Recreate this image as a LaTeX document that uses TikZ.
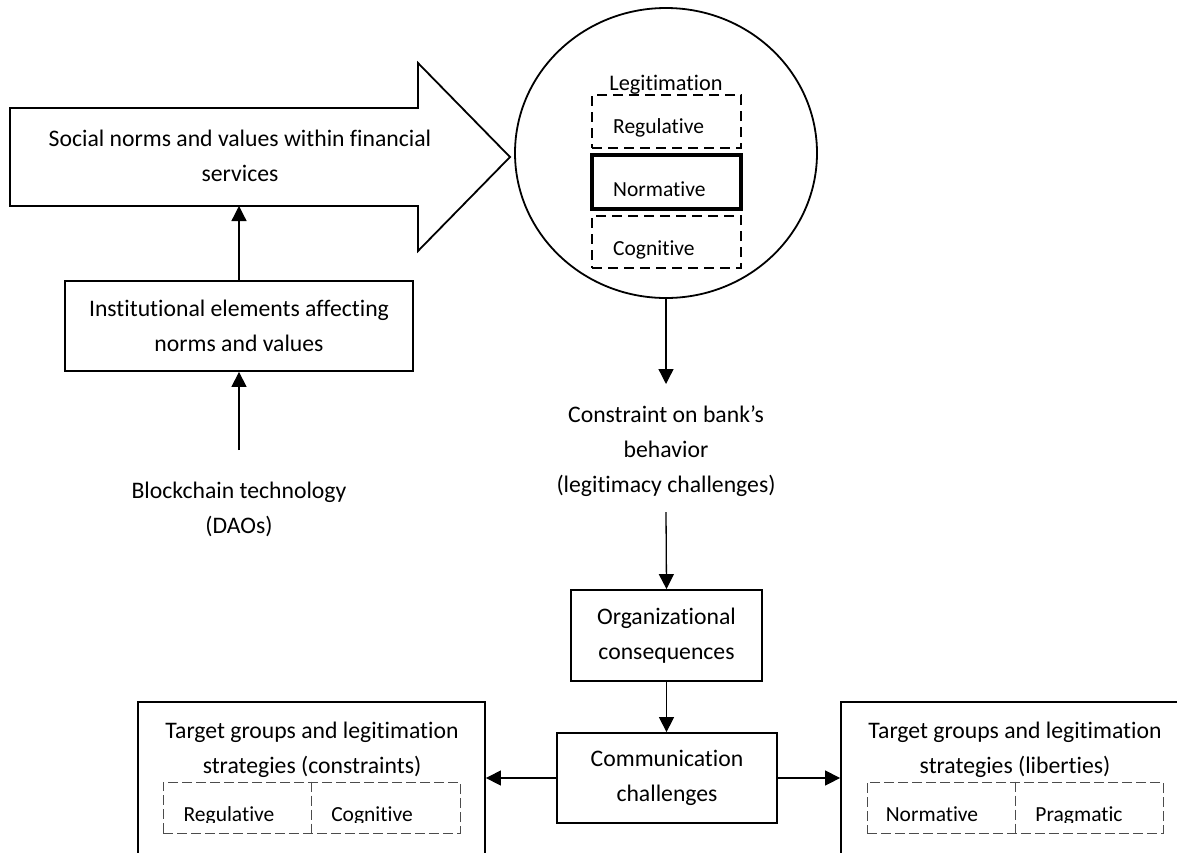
\documentclass[tikz,border=0pt]{standalone}
\usepackage{fontspec}
\setmainfont{Carlito}[Ligatures={NoCommon,NoContextual}, RawFeature=-calt, RawFeature=-rlig, RawFeature=-dlig]
% keep "t" and "i" as separate glyphs
\XeTeXinterchartokenstate=1
\newXeTeXintercharclass\tglyphclass
\newXeTeXintercharclass\iglyphclass
\XeTeXcharclass`t=\tglyphclass
\XeTeXcharclass`i=\iglyphclass
\XeTeXinterchartoks\tglyphclass\iglyphclass={\kern0pt }
\usetikzlibrary{arrows.meta,shapes.geometric}
\begin{document}
\begin{tikzpicture}[x=1pt,y=-1pt,
  big/.style={font=\fontsize{23.7pt}{35pt}\selectfont, align=center, inner sep=0pt},
  small/.style={font=\fontsize{21.5pt}{26pt}\selectfont, inner sep=0pt},
  frame/.style={draw, line width=1.8pt, inner sep=0pt},
  dbox/.style={draw, line width=1.5pt, dash pattern=on 10pt off 6pt, inner sep=0pt},
  sbox/.style={draw=black!70, line width=1pt, dash pattern=on 10pt off 4pt, inner sep=0pt},
  arr/.style={line width=1.3pt, -{Triangle[length=15pt,width=15pt]}},
]
\clip (0,0) rectangle (1177,852);
\fill[white] (0,0) rectangle (1177,852);

% large block arrow: social norms
\draw[line width=1.8pt] (10,108) -- (418,108) -- (418,63) -- (510,157)
  -- (418,251) -- (418,206) -- (10,206) -- cycle;
\node[big] (soc) at (240,156) {Social norms and values within financial\\services};
\coordinate (socBot) at (239,206);

% institutional elements and blockchain
\node[frame, big, minimum width=348pt, minimum height=90pt] (inst) at (239,326)
  {Institutional elements affecting\\norms and values};
\node[big] (bc) at (239,509) {Blockchain technology\\(DAOs)};
\coordinate (bcTop) at (239,450);
\draw[arr] (bcTop) -- (inst.south);
\draw[arr] (inst.north) -- (socBot);

% legitimation circle
\node[draw, ellipse, line width=1.8pt, minimum width=302pt, minimum height=290pt, inner sep=0pt]
  (circ) at (666,153) {};
\node[small, font=\fontsize{22.3pt}{26pt}\selectfont, anchor=base] (legit) at (666,90) {Legitimation};
\node[dbox, minimum width=149pt, minimum height=53pt] (reg) at (666.5,121.5) {};
\node[draw, line width=3.4pt, inner sep=0pt, minimum width=149pt, minimum height=54pt] (nor) at (666.5,182) {};
\node[dbox, minimum width=149pt, minimum height=52pt] (cog) at (666.5,242) {};
\node[small, anchor=base west] (regt) at (613,133) {Regulative};
\node[small, anchor=base west] (nort) at (613,196) {Normative};
\node[small, anchor=base west] (cogt) at (613,255) {Cognitive};

% constraint text
\node[big] (cons) at (666,451) {Constraint on bank’s\\behavior\\(legitimacy challenges)};
\coordinate (consTop) at (666,384);
\coordinate (consBot) at (666,512);
\draw[arr] (circ.south) -- (consTop);

% organisational consequences and communication
\node[frame, big, minimum width=191pt, minimum height=91pt] (org) at (666.5,635.5)
  {Organizational\\consequences};
\node[frame, big, minimum width=220pt, minimum height=90pt] (comm) at (667,778)
  {Communication\\challenges};
\draw[arr] (consBot) -- (org.north);
\draw[arr] (org.south) -- (org.south |- comm.north);

% target groups boxes
\node[frame, minimum width=347pt, minimum height=200pt] (lbox) at (311.5,802) {};
\node[frame, minimum width=347pt, minimum height=200pt] (rbox) at (1014.5,802) {};
\node[big] (ltxt) at (312,750) {Target groups and legitimation\\strategies (constraints)};
\node[big] (rtxt) at (1015,750) {Target groups and legitimation\\strategies (liberties)};
\draw[arr] (comm.west) -- (comm.west -| lbox.east);
\draw[arr] (comm.east) -- (comm.east -| rbox.west);

% strategy sub-boxes
\node[sbox, minimum width=297pt, minimum height=51pt] (lsub) at (311.5,807.5) {};
\node[sbox, minimum width=296pt, minimum height=51pt] (rsub) at (1015,807.5) {};
\draw[sbox] (lsub.north) -- (lsub.south);
\draw[sbox] (rsub.north) -- (rsub.south);
\begin{scope}
  \clip (0,0) rectangle (1177,822);
  \node[small, anchor=base] (lreg) at (229,821) {Regulative};
  \node[small, anchor=base] (lcog) at (372,821) {Cognitive};
  \node[small, anchor=base] (rnor) at (932,821) {Normative};
  \node[small, anchor=base] (rpra) at (1079,821) {Pragmatic};
\end{scope}
\end{tikzpicture}
\end{document}
